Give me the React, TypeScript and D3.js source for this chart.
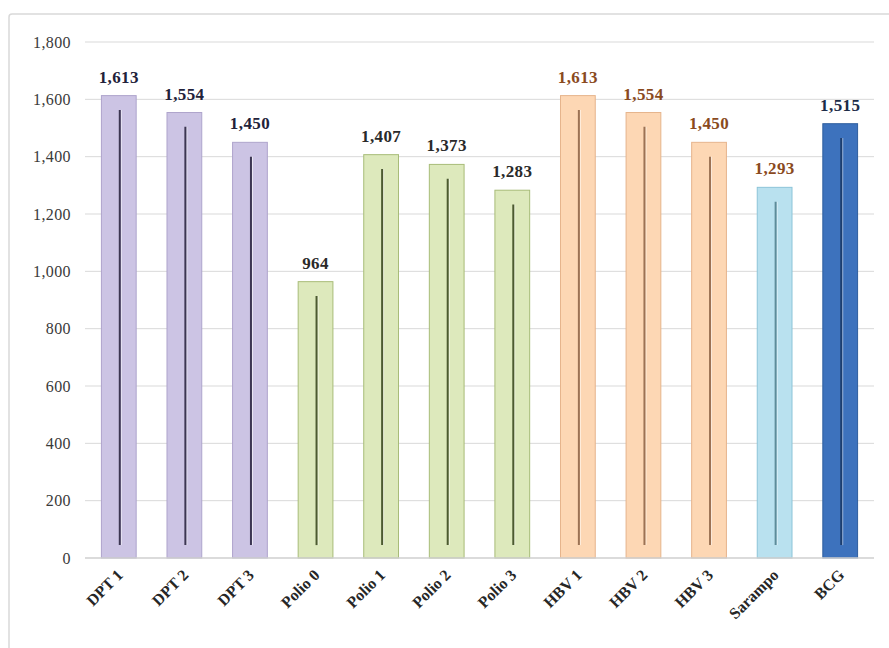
import React from "react";
import * as d3 from "d3";

const categories = ["DPT 1", "DPT 2", "DPT 3", "Polio 0", "Polio 1", "Polio 2", "Polio 3", "HBV 1", "HBV 2", "HBV 3", "Sarampo", "BCG"];
const values = [1613, 1554, 1450, 964, 1407, 1373, 1283, 1613, 1554, 1450, 1293, 1515];
const groups = ["dpt", "dpt", "dpt", "polio", "polio", "polio", "polio", "hbv", "hbv", "hbv", "sar", "bcg"];
const yTicks = [0, 200, 400, 600, 800, 1000, 1200, 1400, 1600, 1800];

const palette: Record<string, { fill: string; stroke: string; line: string; label: string }> = {
  dpt: { fill: "#ccc4e4", stroke: "#aea4cc", line: "#3c3652", label: "#22223a" },
  polio: { fill: "#dde9bc", stroke: "#a8bc78", line: "#4c5a30", label: "#2a2a2a" },
  hbv: { fill: "#fdd7b4", stroke: "#e6b48c", line: "#9c7254", label: "#8a4a1e" },
  sar: { fill: "#b9e1ef", stroke: "#8cc4d8", line: "#5d8c9a", label: "#8a4a1e" },
  bcg: { fill: "#3d72bd", stroke: "#2f5e9e", line: "#1c3d6e", label: "#1c2c48" },
};

export default function App() {
  const W = 889, H = 648;
  const x = d3.scaleBand<string>().domain(categories).range([86, 873]).paddingInner(0.47).paddingOuter(0.235);
  const y = d3.scaleLinear().domain([0, 1800]).range([558, 42]);
  const fmt = d3.format(",");
  const serif = "'Liberation Serif', 'Times New Roman', serif";
  return (
    <svg width={W} height={H} style={{ position: "absolute", left: 0, top: 0, background: "#fff" }}>
      <rect x={9} y={14} width={900} height={660} fill="#fff" stroke="#d9d9d9" strokeWidth={1.5} rx={3} />
      {yTicks.map((t) => (
        <g key={t}>
          {t > 0 && <line x1={85} x2={874} y1={y(t)} y2={y(t)} stroke="#d9d9d9" strokeWidth={1} />}
          <text x={71} y={y(t)} dy="0.35em" textAnchor="end" fontFamily={serif} fontSize={16} letterSpacing={0.4} fill="#3a3a3a">
            {fmt(t)}
          </text>
        </g>
      ))}
      {categories.map((c, i) => {
        const p = palette[groups[i]];
        const bx = x(c)!;
        const bw = x.bandwidth();
        const cx = bx + bw / 2;
        const v = values[i];
        return (
          <g key={c}>
            <rect x={bx} y={y(v)} width={bw} height={y(0) - y(v)} fill={p.fill} stroke={p.stroke} strokeWidth={1} />
            <line x1={cx + 2.5} x2={cx + 2.5} y1={y(v - 50)} y2={y(45)} stroke="#ffffff" strokeOpacity={0.6} strokeWidth={1} />
            <line x1={cx + 1} x2={cx + 1} y1={y(v - 50)} y2={y(45)} stroke={p.line} strokeWidth={2} />
            <text x={cx} y={y(v) - 13} textAnchor="middle" fontFamily={serif} fontWeight="bold" fontSize={17} letterSpacing={0.4} fill={p.label}>
              {fmt(v)}
            </text>
            <text
              transform={`translate(${cx + 5},${576}) rotate(-45)`}
              textAnchor="end"
              fontFamily={serif}
              fontWeight="bold"
              fontSize={16}
              fill="#262626"
            >
              {c}
            </text>
          </g>
        );
      })}
      <line x1={85} x2={874} y1={y(0)} y2={y(0)} stroke="#cfcfcf" strokeWidth={1.5} />
    </svg>
  );
}
